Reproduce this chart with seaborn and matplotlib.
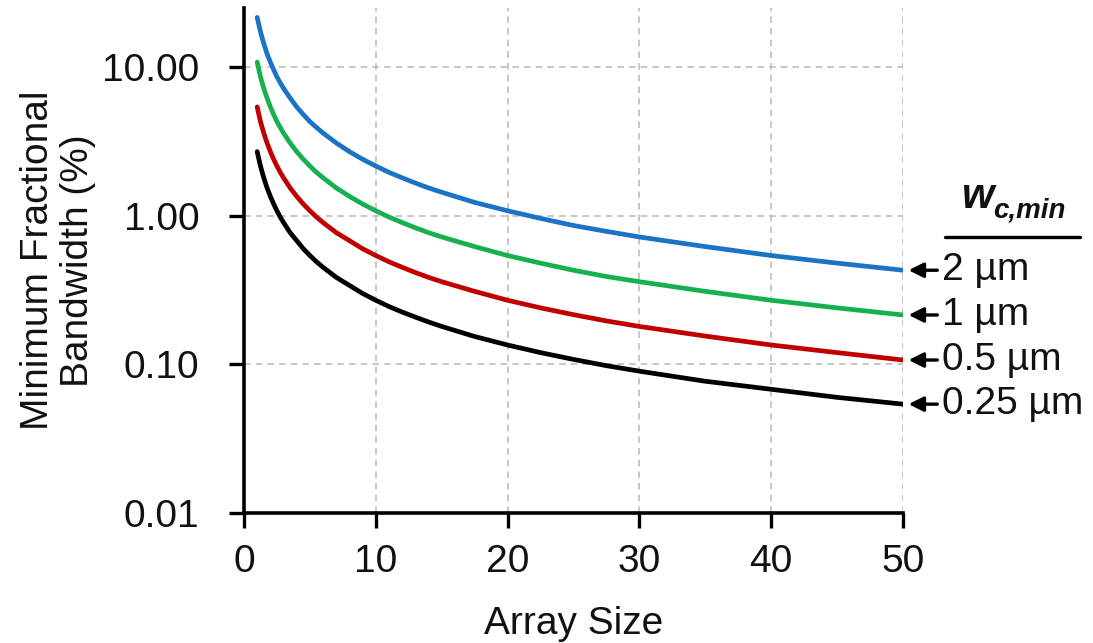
import numpy as np
import pandas as pd
import matplotlib
matplotlib.use("Agg")
import matplotlib.pyplot as plt
import seaborn as sns

# Array sizes at which the curves are sampled
array_size = [1, 1.25, 1.5, 1.75, 2, 2.25, 2.5, 2.75, 3, 3.5, 4, 4.5, 5, 5.5,
              6, 7, 8, 9, 10, 11, 12, 13, 14, 15, 17.5, 20, 22.5, 25, 27.5,
              30, 35, 40, 45, 50]

# Minimum fractional bandwidth (%) for each minimum channel width
bw_2um = [21.6, 17.3, 14.4, 12.3, 10.8, 9.6, 8.6, 7.85, 7.2, 6.2, 5.4, 4.8,
          4.3, 3.93, 3.6, 3.09, 2.7, 2.4, 2.16, 1.96, 1.8, 1.66, 1.54, 1.44,
          1.23, 1.08, 0.96, 0.86, 0.785, 0.72, 0.62, 0.54, 0.48, 0.43]
bw_1um = [10.8, 8.6, 7.2, 6.2, 5.4, 4.8, 4.3, 3.93, 3.6, 3.09, 2.7, 2.4,
          2.16, 1.96, 1.8, 1.54, 1.35, 1.2, 1.08, 0.98, 0.9, 0.83, 0.77,
          0.72, 0.62, 0.54, 0.48, 0.43, 0.39, 0.36, 0.31, 0.27, 0.24, 0.215]
bw_05um = [5.4, 4.3, 3.6, 3.09, 2.7, 2.4, 2.16, 1.96, 1.8, 1.54, 1.35, 1.2,
           1.08, 0.98, 0.9, 0.77, 0.68, 0.6, 0.54, 0.49, 0.45, 0.415, 0.385,
           0.36, 0.31, 0.27, 0.24, 0.216, 0.196, 0.18, 0.155, 0.135, 0.12,
           0.107]
bw_025um = [2.7, 2.16, 1.8, 1.54, 1.35, 1.2, 1.08, 0.98, 0.9, 0.77, 0.68,
            0.6, 0.54, 0.49, 0.45, 0.385, 0.34, 0.3, 0.27, 0.245, 0.225,
            0.208, 0.193, 0.18, 0.154, 0.135, 0.12, 0.108, 0.098, 0.09,
            0.077, 0.068, 0.06, 0.054]

series_labels = ["2 µm", "1 µm", "0.5 µm", "0.25 µm"]
series_values = [bw_2um, bw_1um, bw_05um, bw_025um]
series_colors = ["#1A73C4", "#16B04F", "#C00000", "#000000"]

y_ticks = [0.01, 0.1, 1, 10]
y_tick_labels = ["0.01", "0.10", "1.00", "10.00"]
x_ticks = [0, 10, 20, 30, 40, 50]

df = pd.concat(
    [pd.DataFrame({"Array Size": array_size, "Bandwidth": vals, "Width": lab})
     for lab, vals in zip(series_labels, series_values)],
    ignore_index=True,
)

sns.set_theme(style="white")
plt.rcParams["font.family"] = ["Liberation Sans", "DejaVu Sans"]

FS = 28
TXT = "#111111"

fig = plt.figure(figsize=(10.93, 6.43), dpi=100)
ax = fig.add_axes([244 / 1093, 1 - 513 / 643, (903 - 244) / 1093, (513 - 8) / 643])

sns.lineplot(data=df, x="Array Size", y="Bandwidth", hue="Width",
             hue_order=series_labels, palette=series_colors, linewidth=3.4,
             legend=False, ax=ax, zorder=3)

ax.set_yscale("log")
ax.set_xlim(0, 50)
ax.set_ylim(0.01, 25)
ax.set_xticks(x_ticks)
ax.set_yticks(y_ticks)
ax.set_yticklabels(y_tick_labels)
ax.minorticks_off()

ax.grid(True, which="major", color="#BDBDBD", linestyle=(0, (4, 3)), linewidth=1.2)
for s in ["top", "right"]:
    ax.spines[s].set_visible(False)
for s in ["left", "bottom"]:
    ax.spines[s].set_color("black")
    ax.spines[s].set_linewidth(2.6)

ax.tick_params(axis="both", which="major", direction="out", length=11,
               width=2.4, color="black", labelsize=FS, labelcolor=TXT,
               left=True, bottom=True)
ax.tick_params(axis="y", pad=21)
ax.tick_params(axis="x", pad=11)

ax.set_xlabel("Array Size", fontsize=FS, color=TXT)
ax.xaxis.set_label_coords(0.5, -0.184)
ax.set_ylabel("Minimum Fractional\nBandwidth (%)", fontsize=FS,
              color=TXT, linespacing=1.15)
ax.yaxis.set_label_coords(-0.224, 0.5)

# End-of-line labels with arrows
for lab, vals in zip(series_labels, series_values):
    ax.annotate(lab, xy=(array_size[-1], vals[-1]), xytext=(39, 0),
                textcoords="offset pixels", va="center", ha="left",
                fontsize=FS, color=TXT, annotation_clip=False,
                arrowprops=dict(arrowstyle="-|>", color="black", lw=2.4,
                                mutation_scale=22, shrinkA=1, shrinkB=4,
                                relpos=(0, 0.5)))

# Legend header: w_{c,min} with a rule beneath
fig.text(962 / 1093, 1 - 208 / 643, "w", fontsize=30, fontweight="bold",
         fontstyle="italic", ha="left", va="baseline", color=TXT)
fig.text(993 / 1093, 1 - 217 / 643, "c,min", fontsize=20, fontweight="bold",
         fontstyle="italic", ha="left", va="baseline", color=TXT)
fig.add_artist(plt.Line2D([945 / 1093, 1080 / 1093], [1 - 237 / 643, 1 - 237 / 643],
                          color="black", linewidth=2.4))

fig.savefig("out.png", dpi=100)
